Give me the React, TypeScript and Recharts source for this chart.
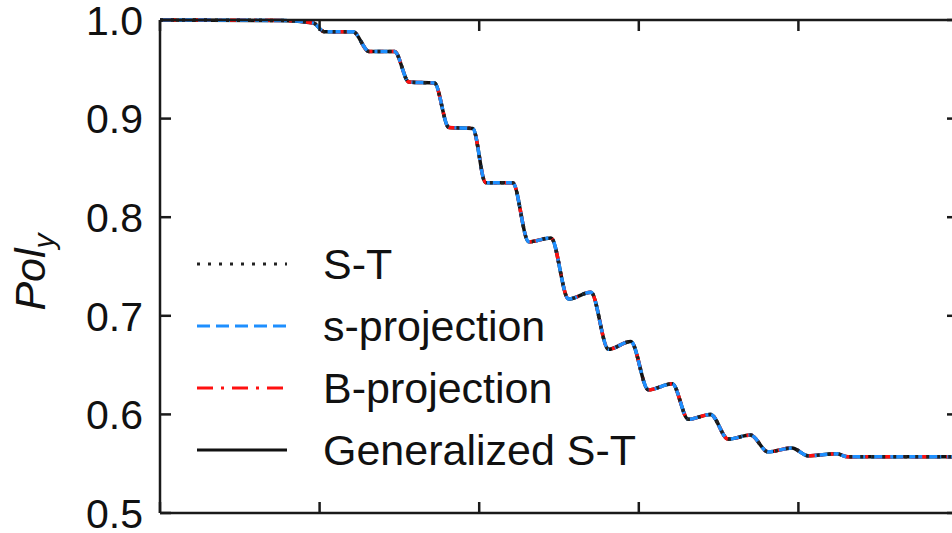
import React from 'react';
import { LineChart, Line, XAxis, YAxis, Legend } from 'recharts';

// x position (arbitrary units, 5 tick intervals) and Pol_y values
const xValues = [0, 0.76, 0.96, 1.03, 1.21, 1.31, 1.47, 1.56, 1.72, 1.81, 1.96, 2.04, 2.21, 2.31, 2.45, 2.56, 2.7, 2.81, 2.95, 3.06, 3.21, 3.31, 3.45, 3.56, 3.7, 3.81, 3.96, 4.06, 4.24, 4.31, 5.0];
const stValues = [1.0, 0.9995, 0.997, 0.988, 0.988, 0.968, 0.968, 0.937, 0.936, 0.891, 0.89, 0.835, 0.835, 0.775, 0.779, 0.717, 0.724, 0.666, 0.674, 0.625, 0.631, 0.595, 0.6, 0.575, 0.579, 0.562, 0.566, 0.558, 0.56, 0.557, 0.557];
const sProjValues = [1.0, 0.9995, 0.997, 0.988, 0.988, 0.968, 0.968, 0.937, 0.936, 0.891, 0.89, 0.835, 0.835, 0.775, 0.779, 0.717, 0.724, 0.666, 0.674, 0.625, 0.631, 0.595, 0.6, 0.575, 0.579, 0.562, 0.566, 0.558, 0.56, 0.557, 0.557];
const bProjValues = [1.0, 0.9995, 0.997, 0.988, 0.988, 0.968, 0.968, 0.937, 0.936, 0.891, 0.89, 0.835, 0.835, 0.775, 0.779, 0.717, 0.724, 0.666, 0.674, 0.625, 0.631, 0.595, 0.6, 0.575, 0.579, 0.562, 0.566, 0.558, 0.56, 0.557, 0.557];
const genStValues = [1.0, 0.9995, 0.997, 0.988, 0.988, 0.968, 0.968, 0.937, 0.936, 0.891, 0.89, 0.835, 0.835, 0.775, 0.779, 0.717, 0.724, 0.666, 0.674, 0.625, 0.631, 0.595, 0.6, 0.575, 0.579, 0.562, 0.566, 0.558, 0.56, 0.557, 0.557];

const xTicks = [0, 1, 2, 3, 4, 5];
const yTicks = [0.5, 0.6, 0.7, 0.8, 0.9, 1.0];

const data = xValues.map((x, i) => ({
  x,
  st: stValues[i],
  sproj: sProjValues[i],
  bproj: bProjValues[i],
  gen: genStValues[i],
}));

const FONT = '"Liberation Sans", Arial, Helvetica, sans-serif';
const AXIS = '#1a1a1a';

const legendItems = [
  { name: 'S-T', color: '#222', dash: '3 8' },
  { name: 's-projection', color: '#1e8fff', dash: '13 6' },
  { name: 'B-projection', color: '#ff1010', dash: '16 8 3 8' },
  { name: 'Generalized S-T', color: '#111', dash: undefined },
];

const LeftTick = ({ x, y, payload }: any) => (
  <g>
    <line x1={x} y1={y} x2={x + 11} y2={y} stroke={AXIS} strokeWidth={2.5} />
    <text x={x - 17} y={y} dy="0.36em" textAnchor="end" fontSize={41} fontFamily={FONT} fill="#111">
      {Number(payload.value).toFixed(1)}
    </text>
  </g>
);
const RightTick = ({ x, y }: any) => <line x1={x} y1={y} x2={x - 11} y2={y} stroke={AXIS} strokeWidth={2.5} />;
const BottomTick = ({ x, y }: any) => <line x1={x} y1={y} x2={x} y2={y - 11} stroke={AXIS} strokeWidth={2.5} />;
const TopTick = ({ x, y }: any) => <line x1={x} y1={y} x2={x} y2={y + 11} stroke={AXIS} strokeWidth={2.5} />;

const YLabel = () => (
  <text x={45} y={272} transform="rotate(-90, 45, 272)" textAnchor="middle" fontSize={43} fontStyle="italic" fontFamily={FONT} fill="#111">
    Pol
    <tspan fontSize={30} dy={9}>y</tspan>
  </text>
);

const LegendBox = () => (
  <div style={{ fontFamily: FONT, fontSize: 43, color: '#111' }}>
    {legendItems.map((it) => (
      <div key={it.name} style={{ display: 'flex', alignItems: 'center', height: 62, lineHeight: '62px' }}>
        <svg width={90} height={62} style={{ display: 'block' }}>
          <line x1={0} y1={31} x2={90} y2={31} stroke={it.color} strokeWidth={3} strokeDasharray={it.dash} />
        </svg>
        <span style={{ marginLeft: 36, whiteSpace: 'nowrap' }}>{it.name}</span>
      </div>
    ))}
  </div>
);

export default function App() {
  return (
    <div style={{ position: 'absolute', left: 0, top: 0, width: 952, height: 533, overflow: 'hidden', background: '#fff' }}>
      <LineChart width={1000} height={533} data={data} margin={{ top: 19, right: 41, bottom: 19, left: 0 }}>
        <XAxis xAxisId="b" dataKey="x" type="number" domain={[0, 5]} ticks={xTicks} height={1}
          axisLine={{ stroke: AXIS, strokeWidth: 2.5 }} tickLine={false} tickSize={0} tickMargin={0} tick={<BottomTick />} />
        <XAxis xAxisId="t" dataKey="x" type="number" orientation="top" domain={[0, 5]} ticks={xTicks} height={1}
          axisLine={{ stroke: AXIS, strokeWidth: 2.5 }} tickLine={false} tickSize={0} tickMargin={0} tick={<TopTick />} />
        <YAxis yAxisId="l" type="number" domain={[0.5, 1.0]} ticks={yTicks} width={160}
          axisLine={{ stroke: AXIS, strokeWidth: 2.5 }} tickLine={false} tickSize={0} tickMargin={0} tick={<LeftTick />}
          label={{ content: <YLabel /> }} />
        <YAxis yAxisId="r" type="number" orientation="right" domain={[0.5, 1.0]} ticks={yTicks} width={1}
          axisLine={{ stroke: AXIS, strokeWidth: 2.5 }} tickLine={false} tickSize={0} tickMargin={0} tick={<RightTick />} />
        <Line xAxisId="t" yAxisId="r" type="monotone" dataKey="gen" name="Generalized S-T" stroke="#111" strokeWidth={3.5} dot={false} isAnimationActive={false} />
        <Line xAxisId="t" yAxisId="r" type="monotone" dataKey="bproj" name="B-projection" stroke="#ff1010" strokeWidth={3.5} strokeDasharray="16 8 3 8" dot={false} isAnimationActive={false} />
        <Line xAxisId="b" yAxisId="l" type="monotone" dataKey="sproj" name="s-projection" stroke="#1e8fff" strokeWidth={3.5} strokeDasharray="13 6" dot={false} isAnimationActive={false} />
        <Line xAxisId="b" yAxisId="l" type="monotone" dataKey="st" name="S-T" stroke="#222" strokeWidth={3.5} strokeDasharray="3 8" dot={false} isAnimationActive={false} />
        <Legend layout="vertical" align="center" verticalAlign="middle" content={<LegendBox />}
          wrapperStyle={{ position: 'absolute', left: 197, top: 233, width: 520, height: 248 }} />
      </LineChart>
    </div>
  );
}
